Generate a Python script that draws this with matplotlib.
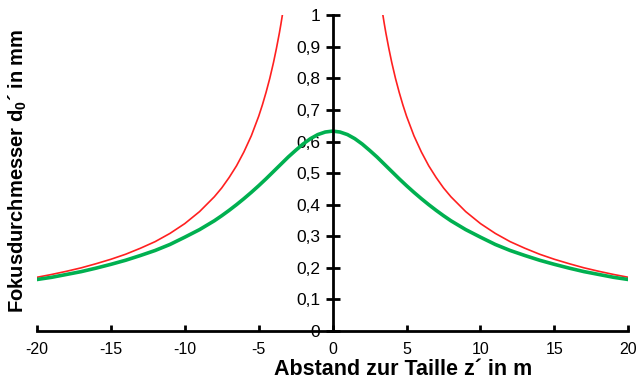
import matplotlib
matplotlib.use("Agg")
from matplotlib import pyplot as plt
from matplotlib.ticker import FuncFormatter

plt.rcParams['font.family'] = ['Liberation Sans', 'DejaVu Sans']
plt.rcParams['mathtext.fontset'] = 'custom'
plt.rcParams['mathtext.rm'] = 'Liberation Sans'
plt.rcParams['mathtext.bf'] = 'Liberation Sans:bold'
plt.rcParams['mathtext.default'] = 'bf'

# red curve (geometric estimate)
z_red_left = [-20, -19, -18, -17, -16, -15, -14, -13, -12, -11, -10, -9, -8, -7.5, -7,
              -6.5, -6, -5.5, -5, -4.75, -4.5, -4.25, -4, -3.8, -3.6, -3.5, -3.4]
d_red_left = [0.170, 0.179, 0.189, 0.200, 0.213, 0.227, 0.243, 0.262, 0.283, 0.309,
              0.340, 0.378, 0.425, 0.453, 0.486, 0.523, 0.567, 0.618, 0.680, 0.716,
              0.756, 0.800, 0.850, 0.895, 0.944, 0.971, 1.000]
z_red_right = [3.4, 3.5, 3.6, 3.8, 4, 4.25, 4.5, 4.75, 5, 5.5, 6, 6.5, 7, 7.5, 8,
               9, 10, 11, 12, 13, 14, 15, 16, 17, 18, 19, 20]
d_red_right = [1.000, 0.971, 0.944, 0.895, 0.850, 0.800, 0.756, 0.716, 0.680, 0.618,
               0.567, 0.523, 0.486, 0.453, 0.425, 0.378, 0.340, 0.309, 0.283, 0.262,
               0.243, 0.227, 0.213, 0.200, 0.189, 0.179, 0.170]

# green curve (focus diameter)
z_green = [-20, -19, -18, -17, -16, -15, -14, -13, -12, -11, -10, -9, -8, -7.5, -7,
           -6.5, -6, -5.5, -5, -4.5, -4, -3.5, -3, -2.5, -2, -1.5, -1, -0.5, 0,
           0.5, 1, 1.5, 2, 2.5, 3, 3.5, 4, 4.5, 5, 5.5, 6, 6.5, 7, 7.5, 8,
           9, 10, 11, 12, 13, 14, 15, 16, 17, 18, 19, 20]
d_green = [0.163, 0.170, 0.179, 0.188, 0.199, 0.211, 0.224, 0.239, 0.255, 0.274,
           0.297, 0.321, 0.349, 0.365, 0.382, 0.400, 0.419, 0.439, 0.460, 0.482,
           0.505, 0.528, 0.551, 0.572, 0.592, 0.609, 0.622, 0.630, 0.633,
           0.630, 0.622, 0.609, 0.592, 0.572, 0.551, 0.528, 0.505, 0.482, 0.460,
           0.439, 0.419, 0.400, 0.382, 0.365, 0.349, 0.321, 0.297, 0.274, 0.255,
           0.239, 0.224, 0.211, 0.199, 0.188, 0.179, 0.170, 0.163]

x_ticks = [-20, -15, -10, -5, 0, 5, 10, 15, 20]
y_ticks = [0, 0.1, 0.2, 0.3, 0.4, 0.5, 0.6, 0.7, 0.8, 0.9, 1.0]

fig = plt.figure(figsize=(6.36, 3.8), dpi=100)
ax = fig.add_axes([0.058, 0.129, 0.930, 0.831])

ax.plot(z_red_left, d_red_left, color='#ff2020', lw=1.2)
ax.plot(z_red_right, d_red_right, color='#ff2020', lw=1.2)
ax.plot(z_green, d_green, color='#00b050', lw=2.6)

ax.set_xlim(-20, 20)
ax.set_ylim(0, 1)
ax.spines['top'].set_visible(False)
ax.spines['right'].set_visible(False)
ax.spines['left'].set_position(('data', 0))
ax.spines['left'].set_linewidth(2)
ax.spines['bottom'].set_linewidth(2)

ax.set_xticks(x_ticks)
ax.set_yticks(y_ticks)
comma = FuncFormatter(lambda v, p: ('%g' % round(v, 2)).replace('.', ','))
ax.yaxis.set_major_formatter(comma)
ax.xaxis.set_major_formatter(FuncFormatter(lambda v, p: '%d' % v))
ax.tick_params(axis='y', direction='inout', length=10, width=2, labelsize=12.5, pad=4)
ax.tick_params(axis='x', direction='in', length=4, width=2, labelsize=11.5, pad=8)

ax.set_xlabel('Abstand zur Taille z´ in m', fontsize=15.5, fontweight='bold')
ax.xaxis.set_label_coords(0.62, -0.09)
fig.text(0.028, 0.55, 'Fokusdurchmesser d$_{0}$´ in mm', rotation=90,
         ha='center', va='center', fontsize=14.5, fontweight='bold')

fig.savefig('out.png', dpi=100)
